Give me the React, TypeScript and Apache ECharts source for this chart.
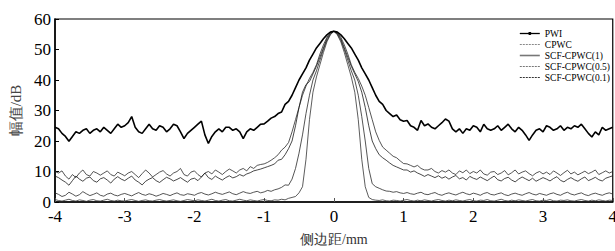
import React, { useEffect, useRef } from "react";
import * as echarts from "echarts";

// lateral distance grid (mm), step 0.05 from -4 to 4
const X_MIN = -4;
const X_STEP = 0.05;
const X_TICKS = [-4, -3, -2, -1, 0, 1, 2, 3, 4];
const Y_TICKS = [0, 10, 20, 30, 40, 50, 60];

const SERIES_NAMES = ["PWI", "CPWC", "SCF-CPWC(1)", "SCF-CPWC(0.5)", "SCF-CPWC(0.1)"];

const PWI = [
  24.5, 24, 22.5, 21.5, 19.9, 21.5, 23, 22.5, 23.5, 24, 22.5, 23.5, 24, 23, 24.5, 23.5, 22.5, 24, 25.5, 24.5,
  25, 26, 28, 24.5, 23, 22.5, 24, 25.5, 24, 23.5, 25, 24.5, 23, 24, 25.5, 25, 23, 20.8, 22.5, 23.5,
  24.5, 25.5, 26.5, 22, 19.2, 21.5, 23, 24, 23, 24.5, 24.5, 23.5, 24, 23, 20.8, 23, 24, 23.5, 24.5, 25.5,
  25.6, 26.5, 27.5, 28, 29, 29.5, 32, 33, 35, 37.5, 40, 42, 44, 46.5, 48.5, 50.5, 52, 53.5, 54.8, 55.7,
  56,
  55.7, 54.8, 53.5, 52, 50.5, 48.5, 46.5, 44, 42, 40, 37.5, 35, 33, 32, 30, 29, 28, 28.5, 27, 26.5,
  26.7, 25, 24.5, 23.5, 26.7, 25, 25.6, 24.5, 24, 25, 26, 27.2, 26.5, 24, 23, 24, 22.5, 24, 23.5, 25,
  24.5, 23, 25.5, 24, 23.5, 24, 25, 23.5, 24.5, 25.5, 24, 23, 24.5, 23.5, 22, 20.2, 22, 23.5, 24, 23,
  25, 24.5, 23.5, 24, 25, 23.5, 24.5, 24, 25, 24.5, 25.5, 24, 22.5, 21.3, 23, 22, 24.5, 23.5, 24, 24.5,
];

const CPWC = [
  10, 9.5, 10.2, 8.5, 7.5, 9, 8, 9.5, 10.5, 9, 8.5, 10, 9.5, 8.8, 9.5, 10.2, 9, 8.5, 9.8, 9.2,
  8.6, 9.5, 10, 9, 8, 9.3, 10.5, 9.5, 8.2, 9, 9.8, 10.3, 9.2, 8.5, 9.5, 10, 11, 9, 8.5, 9.8,
  10.2, 9, 8.2, 9.5, 10, 9.2, 10.5, 9.8, 9, 10, 10.8, 10.2, 9.5, 10.5, 11, 10.2, 11.6, 11, 12, 12.3,
  12.5, 13, 13.7, 14.5, 15.5, 17, 18, 19.5, 23, 27, 31, 35, 38, 40.5, 42.5, 45, 48.5, 51.5, 54, 55.5,
  56,
  55.5, 54, 51.5, 48.5, 45, 42.5, 40.5, 38, 35, 31, 27, 23, 20.2, 18, 17, 16, 15, 14.5, 13.5, 12.6,
  12.5, 12, 11.5, 12, 11, 10.5, 10.5, 11, 10, 9.5, 10.3, 9.8, 10.5, 9.5, 9, 10.2, 9.6, 10.5, 9.3, 10,
  9.5, 10.5, 9.2, 8.8, 9.8, 10, 9, 9.5, 10.3, 8.9, 9.6, 10.5, 9.2, 9.8, 10.2, 9.3, 8.6, 9.5, 10, 9.2,
  9.8, 9, 10.2, 9.5, 8.7, 9.6, 10.4, 9.2, 9.8, 8.9, 9.5, 10.1, 9.3, 9.8, 10.5, 9, 9.6, 10.2, 9.5, 10,
];

const SCF_1 = [
  0.8, 0.5, 0.3, 0.6, 0.9, 0.5, 0.3, 0.7, 0.5, 0.2, 0.6, 0.8, 0.4, 0.3, 0.6, 0.9, 0.5, 0.3, 0.6, 0.4,
  0.3, 0.6, 0.8, 0.5, 0.2, 0.5, 0.7, 0.4, 0.3, 0.6, 0.8, 0.5, 0.3, 0.5, 0.7, 0.4, 0.2, 0.5, 0.8, 0.6,
  0.4, 0.7, 0.5, 0.3, 0.6, 0.9, 0.5, 0.3, 0.6, 0.8, 0.4, 0.3, 0.6, 0.9, 0.6, 0.4, 0.7, 0.5, 0.3, 0.6,
  0.8, 0.5, 0.4, 0.7, 0.6, 0.9, 0.7, 1.2, 1.5, 1.8, 3, 5, 14, 27, 36, 41, 45, 49, 52.5, 54.8,
  56,
  54.8, 52.5, 49, 45, 41, 36, 27, 14, 5, 1.5, 0.8, 0.6, 0.5, 0.7, 0.4, 0.3, 0.6, 0.5, 0.3, 0.6,
  0.8, 0.5, 0.3, 0.6, 0.4, 0.7, 0.5, 0.3, 0.6, 0.8, 0.5, 0.3, 0.6, 0.4, 0.7, 0.5, 0.3, 0.6, 0.8, 0.4,
  0.3, 0.6, 0.5, 0.8, 0.4, 0.3, 0.6, 0.9, 0.5, 0.3, 0.6, 0.4, 0.7, 0.5, 0.3, 0.6, 0.8, 0.4, 0.3, 0.6,
  0.5, 0.8, 0.4, 0.3, 0.6, 0.5, 0.7, 0.4, 0.3, 0.6, 0.8, 0.5, 0.3, 0.6, 0.4, 0.7, 0.5, 0.3, 0.6, 0.5,
];

const SCF_05 = [
  3, 2.5, 1.8, 2.2, 3.2, 2.6, 1.9, 2.4, 3.4, 2.7, 2.1, 2.5, 3, 2.2, 1.9, 2.6, 2.9, 2.3, 2, 2.5,
  2.8, 2.4, 2, 2.6, 3.1, 2.5, 2.2, 2.7, 2.4, 1.9, 2.3, 2.8, 2.5, 2.1, 2.6, 3, 2.4, 2.2, 2.7, 2.5,
  2.2, 2.8, 3.1, 2.6, 2.3, 2.7, 3.2, 2.8, 2.5, 2.9, 3.3, 2.7, 2.4, 2.9, 3.4, 3, 2.8, 3.2, 3.5, 3,
  3.3, 3.8, 3.5, 4, 4.3, 4.8, 5.6, 5.5, 7.5, 11, 16, 22, 29, 35, 40, 43, 46.5, 50, 53, 55,
  56,
  55, 53, 50, 46.5, 43, 40, 35, 28, 20, 11, 6, 5, 4.5, 4, 3.6, 3.5, 3.2, 3.4, 3, 2.8,
  3.1, 2.7, 2.5, 2.9, 3.2, 2.6, 2.4, 2.8, 3.1, 2.5, 2.2, 2.7, 3, 2.6, 2.3, 2.8, 3.2, 2.7, 2.4, 2.9,
  2.6, 2.2, 2.8, 3.1, 2.5, 2.3, 2.7, 3, 2.4, 2.1, 2.6, 2.9, 2.5, 2.2, 2.7, 3.1, 2.6, 2.3, 2.8, 2.5,
  2.2, 2.7, 3, 2.5, 2.2, 2.8, 3.2, 2.6, 2.3, 2.7, 3, 2.4, 2.1, 2.6, 2.9, 2.5, 2.2, 2.7, 3, 2.6,
];

const SCF_01 = [
  8.5, 8, 7.2, 6.5, 5.5, 7, 8.5, 7.5, 6.8, 7.8, 8.2, 7, 6.5, 7.6, 8, 7.2, 6.2, 7.5, 8.3, 7.5,
  7, 7.8, 8.5, 7.2, 6.5, 5.6, 6.8, 7.5, 8, 7, 6.4, 7.3, 8.1, 7.6, 6.9, 7.4, 8, 7.2, 6.5, 7.5,
  7.8, 7, 8.2, 9.5, 8, 7.4, 8.5, 7.8, 7.2, 8, 8.6, 7.9, 8.3, 9, 8.5, 9.2, 9.6, 10.2, 10.5, 10.8,
  11.2, 11.6, 12, 12.5, 13.7, 14, 15.5, 17.5, 20, 25, 31, 36, 38.5, 39.5, 42, 44.5, 47.5, 50.5, 53.5, 55.3,
  56,
  55.3, 53.5, 50.5, 47.5, 44.5, 42, 39.5, 36, 31, 25, 20, 17.5, 15.5, 14.5, 13.7, 12.8, 12, 11.5, 11, 10.5,
  10.5, 9.8, 10.2, 9.5, 9, 8.4, 9, 8.5, 8, 8.6, 7.8, 8.3, 7.5, 8.2, 8.7, 7.6, 8, 7.2, 8.4, 7.8,
  7.4, 8.2, 7.6, 7, 7.8, 8.5, 7.3, 6.9, 7.7, 8.1, 7.2, 6.6, 7.5, 8.2, 7.6, 7, 7.8, 6.8, 7.4, 8,
  7.5, 6.9, 7.7, 8.3, 7.1, 6.6, 7.4, 8, 7.3, 6.8, 7.6, 8.2, 7, 7.5, 8.1, 7.3, 6.9, 7.8, 8.2, 8.6,
];

const FONT = "Liberation Serif, Times New Roman, serif";

function pairs(values: number[]): [number, number][] {
  return values.map((v, i) => [Math.round((X_MIN + i * X_STEP) * 100) / 100, v]);
}

export default function App() {
  const ref = useRef<HTMLDivElement>(null);
  useEffect(() => {
    if (!ref.current) return;
    const chart = echarts.init(ref.current, undefined, { renderer: "svg" });
    const seriesData = [PWI, CPWC, SCF_1, SCF_05, SCF_01];
    const colors = ["#000000", "#2a2a2a", "#333333", "#2a2a2a", "#1a1a1a"];
    const widths = [1.6, 0.8, 0.8, 0.8, 0.8];
    const legendLine: any[] = [
      { type: "solid", color: "#000", width: 1.3 },
      { type: [2, 1], color: "#888", width: 1.2 },
      { type: "solid", color: "#777", width: 1.6 },
      { type: [2, 1], color: "#777", width: 1.2 },
      { type: [2, 1], color: "#333", width: 1 },
    ];
    chart.setOption({
      animation: false,
      backgroundColor: "#fff",
      grid: { left: 53, top: 19, right: 4, bottom: 47, show: true, borderColor: "#000", borderWidth: 1.2 },
      legend: {
        orient: "vertical",
        left: 519,
        top: 28,
        padding: 0,
        itemWidth: 20,
        itemHeight: 4,
        itemGap: 0,
        textStyle: { fontFamily: FONT, fontSize: 9.5, color: "#000", lineHeight: 11 },
        data: SERIES_NAMES.map((n, i) =>
          i === 0
            ? { name: n, lineStyle: legendLine[i], itemStyle: { color: "#000", borderWidth: 0 } }
            : { name: n, lineStyle: legendLine[i], itemStyle: { opacity: 0, borderWidth: 0 } }
        ),
      },
      xAxis: {
        type: "value",
        min: X_TICKS[0],
        max: X_TICKS[X_TICKS.length - 1],
        interval: 1,
        name: "侧边距/mm",
        nameLocation: "middle",
        nameGap: 30,
        nameTextStyle: { fontFamily: FONT, fontSize: 14, color: "#333" },
        axisLine: { show: true, onZero: false, lineStyle: { color: "#000", width: 1.5 } },
        axisTick: { show: true, inside: true, length: 4, lineStyle: { color: "#555" } },
        axisLabel: { fontFamily: FONT, fontSize: 17, color: "#000", margin: 6 },
        splitLine: { show: false },
      },
      yAxis: {
        type: "value",
        min: Y_TICKS[0],
        max: Y_TICKS[Y_TICKS.length - 1],
        interval: 10,
        name: "幅值/dB",
        nameLocation: "middle",
        nameGap: 32,
        nameTextStyle: { fontFamily: FONT, fontSize: 15, color: "#444" },
        axisLine: { show: true, onZero: false, lineStyle: { color: "#000", width: 1.5 } },
        axisTick: { show: true, inside: true, length: 4, lineStyle: { color: "#000" } },
        axisLabel: { fontFamily: FONT, fontSize: 17, color: "#000", margin: 4 },
        splitLine: { show: false },
      },
      series: SERIES_NAMES.map((name, i) => ({
        name,
        type: "line",
        data: pairs(seriesData[i]),
        symbol: i === 0 ? "circle" : "none",
        symbolSize: 3,
        showSymbol: false,
        itemStyle: { color: colors[i] },
        lineStyle: { color: colors[i], width: widths[i] },
        z: i === 0 ? 5 : 2,
      })),
    });
    return () => chart.dispose();
  }, []);
  return (
    <div style={{ position: "absolute", left: 0, top: 0, width: 615, height: 251, overflow: "hidden" }}>
      <div ref={ref} style={{ width: 620, height: 251 }} />
    </div>
  );
}
